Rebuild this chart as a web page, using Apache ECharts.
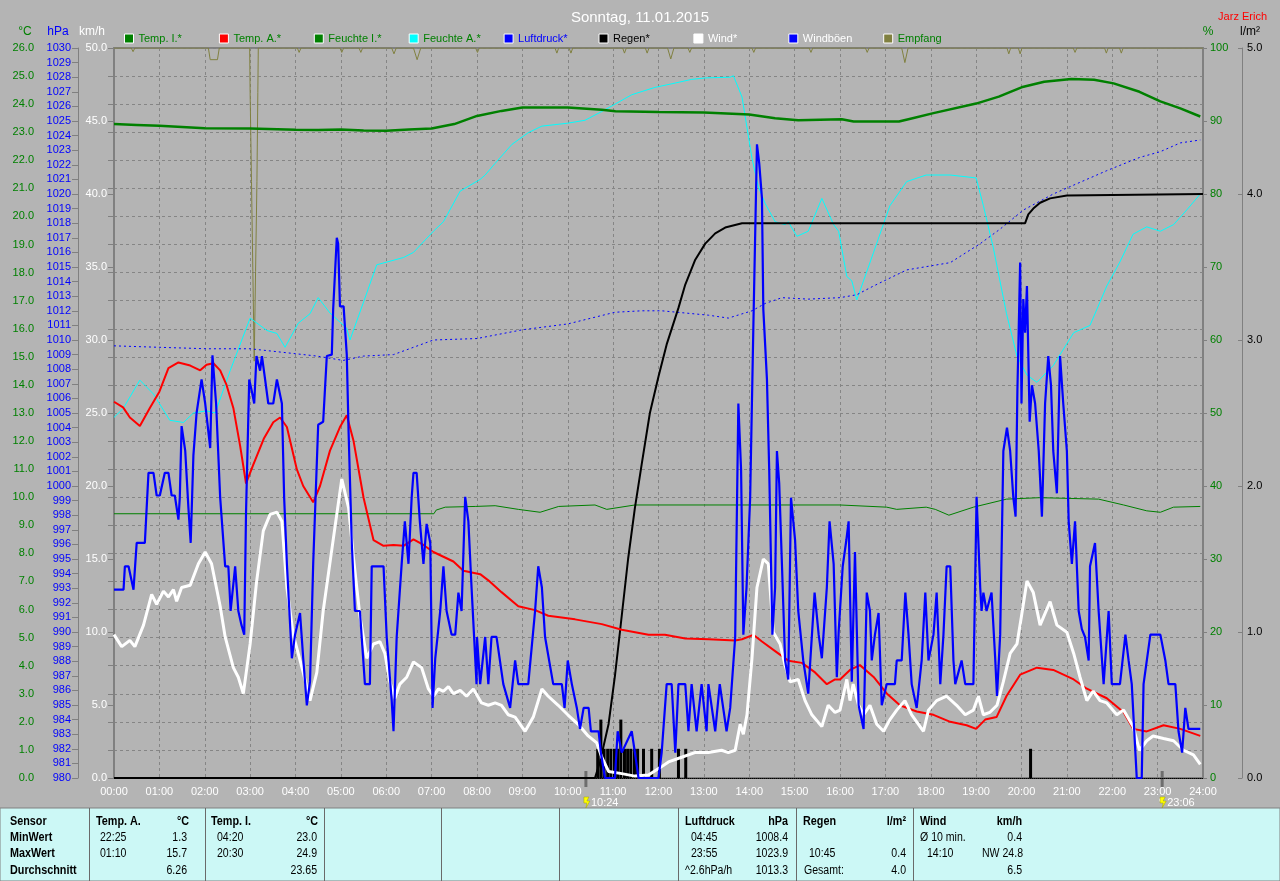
<!DOCTYPE html>
<html><head><meta charset="utf-8">
<script src="https://cdn.jsdelivr.net/npm/echarts@6/dist/echarts.min.js"></script>
<style>html,body{margin:0;padding:0;background:#b4b4b4}#c{width:1280px;height:881px}</style>
</head><body><div id="c"></div><script>
// ---------- data (time in hours) ----------
const hourLabels = ['00:00','01:00','02:00','03:00','04:00','05:00','06:00','07:00','08:00','09:00','10:00','11:00','12:00','13:00','14:00','15:00','16:00','17:00','18:00','19:00','20:00','21:00','22:00','23:00','24:00'];
const legendNames = ['Temp. I.*','Temp. A.*','Feuchte I.*','Feuchte A.*','Luftdruck*','Regen*','Wind*','Windböen','Empfang'];
const legendTextColors = ['#008000','#008000','#008000','#008000','#0000ff','#000000','#ffffff','#ffffff','#008000'];
const axisUnits = ['°C','hPa','km/h','%','l/m²'];
const axisUnitColors = ['#008000','#0000ff','#ffffff','#008000','#000000'];

const tempI = [[0,23.29],[0.5,23.26],[1,23.23],[1.5,23.19],[2,23.14],[3,23.13],[4,23.09],[4.5,23.08],[5,23.1],[5.5,23.06],[6,23.05],[6.5,23.1],[7,23.13],[7.5,23.29],[8,23.58],[8.54,23.76],[9,23.88],[10,23.88],[10.75,23.8],[11.05,23.75],[12,23.72],[13,23.7],[14,23.63],[14.57,23.5],[15.08,23.43],[16.04,23.46],[16.3,23.38],[17.3,23.38],[17.6,23.5],[18.06,23.68],[19,24.02],[19.5,24.27],[20,24.6],[20.5,24.8],[21.1,24.9],[21.6,24.87],[22.03,24.74],[22.6,24.44],[23.06,24.1],[23.5,23.85],[23.94,23.56]];

const tempA = [[0,13.4],[0.2,13.2],[0.35,12.84],[0.57,12.54],[0.79,13.18],[1.0,13.76],[1.2,14.6],[1.42,14.8],[1.68,14.69],[1.9,14.52],[2.04,14.72],[2.19,14.77],[2.34,14.52],[2.48,14.0],[2.63,13.18],[2.78,11.83],[2.91,10.49],[3.07,11.16],[3.3,12.08],[3.51,12.67],[3.66,12.84],[3.81,12.5],[4.03,10.99],[4.17,10.4],[4.39,9.82],[4.54,10.4],[4.76,11.66],[4.98,12.5],[5.13,12.92],[5.28,12.0],[5.5,9.98],[5.72,8.47],[5.94,8.27],[6.16,8.3],[6.38,8.27],[6.6,8.5],[6.82,8.3],[7.04,8.05],[7.26,7.88],[7.48,7.71],[7.7,7.38],[8.07,7.26],[8.25,7.04],[8.54,6.62],[8.91,6.12],[9.28,5.98],[9.57,5.78],[10.16,5.65],[10.75,5.48],[11.19,5.28],[11.78,5.1],[12.14,5.1],[12.59,4.97],[13.1,4.94],[13.69,4.9],[13.84,4.94],[14.09,5.1],[14.28,4.86],[14.57,4.52],[14.86,4.18],[15.16,4.1],[15.45,3.76],[15.71,3.34],[15.89,3.51],[16.0,3.51],[16.22,3.85],[16.44,4.02],[16.74,3.6],[17.03,3.01],[17.32,2.59],[17.69,2.37],[18.06,2.25],[18.43,2.0],[18.79,1.88],[19.0,1.75],[19.2,2.08],[19.45,2.17],[19.67,2.92],[19.97,3.68],[20.34,3.93],[20.7,3.85],[21.15,3.51],[21.44,3.18],[21.88,2.84],[22.25,2.34],[22.46,1.75],[22.76,1.66],[23.13,1.88],[23.5,1.75],[23.94,1.5]];

const humI = [[0,36.2],[7.05,36.2],[7.1,36.7],[7.3,37.1],[7.96,37.2],[8.4,37.3],[8.91,36.8],[9.39,36.4],[9.8,37.2],[10.6,37.4],[10.86,36.8],[11.48,37.4],[16,37.4],[17.03,37.1],[17.25,36.8],[17.9,37.1],[18.1,36.8],[18.4,36.0],[18.94,37.1],[19.67,38.2],[20.4,38.4],[21.7,38.2],[22.25,37.4],[22.76,36.6],[23.06,36.4],[23.35,37.1],[23.94,37.2]];

const humA = [[0,49.4],[0.2,50.6],[0.57,54.5],[0.87,52.6],[1.23,49.0],[1.53,48.7],[1.75,50],[2.04,50.3],[2.23,50],[2.56,55.8],[3.0,63.0],[3.37,61.3],[3.59,60.9],[3.77,59.0],[4.06,62.3],[4.32,63.6],[4.5,65.8],[4.76,63.7],[5.13,61.6],[5.2,60.0],[5.5,65.2],[5.79,70.3],[6.38,71.3],[6.6,72.0],[7.04,74.9],[7.26,76.2],[7.63,80.4],[8.07,82],[8.18,82.6],[8.4,84.2],[8.77,86.8],[9.13,88.4],[9.43,89.3],[10.0,89.7],[10.38,90.1],[10.75,91.3],[11.04,92.3],[11.41,93.6],[11.92,94.6],[12.37,95.2],[12.73,95.7],[13.03,95.9],[13.58,96],[13.65,96.2],[13.84,93.3],[14.06,84.9],[14.2,81],[14.35,78.7],[14.57,76.2],[14.79,75.8],[14.86,76.2],[15.05,74.2],[15.3,74.9],[15.6,79.4],[15.86,75.8],[15.97,74.9],[16.15,68.7],[16.26,68.1],[16.37,65.5],[16.74,72],[17.1,78.4],[17.47,81.7],[17.9,82.6],[18.43,82.6],[19.0,82.2],[19.16,78.4],[19.38,72.6],[19.67,63.6],[19.9,57.8],[20.12,55.2],[20.34,54.2],[20.7,56.5],[21.15,61],[21.51,62],[21.88,67.4],[22.17,70.7],[22.46,74.5],[22.76,75.5],[23.06,74.9],[23.35,75.8],[23.64,77.8],[23.94,80]];

const pressure = [[0,1009.6],[1.0,1009.5],[2.04,1009.4],[3.0,1009.4],[3.59,1009.2],[4.47,1008.9],[5.05,1008.6],[5.5,1008.9],[6.16,1009.0],[7.04,1010.0],[8.0,1010.1],[9.0,1010.7],[10.0,1011.1],[11.04,1011.9],[11.63,1012.0],[12.07,1012.0],[13.1,1011.7],[13.54,1011.5],[14.06,1012.0],[14.35,1012.5],[14.72,1012.9],[15.3,1012.8],[16.0,1012.9],[16.37,1013.1],[16.74,1013.7],[17.47,1014.8],[18.43,1015.3],[19.09,1016.6],[19.53,1017.6],[20.04,1018.9],[20.7,1020],[21.29,1020.8],[21.88,1021.6],[22.6,1022.5],[23.06,1022.9],[23.5,1023.5],[23.94,1023.7]];

const rainTotal = [[0,0],[10.6,0],[10.71,0.11],[10.9,0.37],[11.04,0.7],[11.15,1.0],[11.33,1.5],[11.48,1.85],[11.63,2.15],[11.81,2.5],[12.0,2.75],[12.18,2.97],[12.44,3.22],[12.59,3.38],[12.81,3.55],[13.03,3.66],[13.25,3.73],[13.47,3.77],[13.84,3.8],[20.08,3.8],[20.15,3.86],[20.26,3.9],[20.41,3.94],[20.63,3.97],[21.0,3.99],[24,4.0]];

const rainRate = [[10.66,0.2],[10.73,0.4],[10.8,0.2],[10.88,0.2],[10.95,0.2],[11.03,0.2],[11.1,0.2],[11.17,0.4],[11.25,0.2],[11.32,0.2],[11.39,0.2],[11.47,0.2],[11.54,0.2],[11.67,0.2],[11.85,0.2],[12.02,0.2],[12.44,0.2],[12.6,0.2],[20.2,0.2]];

const wind = [[0,9.82],[0.17,9.0],[0.35,9.43],[0.46,9.0],[0.65,10.47],[0.83,12.57],[0.94,11.9],[1.09,12.8],[1.2,12.4],[1.31,12.9],[1.38,12.1],[1.49,13.05],[1.68,13.2],[1.86,14.67],[2.01,15.48],[2.15,14.67],[2.34,11.76],[2.45,9.66],[2.63,7.56],[2.74,6.9],[2.85,5.78],[3.0,9.18],[3.14,13.38],[3.29,16.93],[3.44,18.06],[3.59,18.2],[3.7,17.58],[3.81,13.05],[3.95,9.82],[4.17,7.24],[4.32,5.3],[4.47,7.24],[4.61,11.44],[4.8,15.64],[5.02,20.48],[5.17,18.5],[5.28,15.0],[5.42,11.1],[5.57,8.2],[5.72,9.18],[5.86,9.34],[5.97,8.53],[6.08,6.6],[6.19,5.46],[6.3,6.43],[6.45,6.9],[6.6,7.95],[6.78,7.56],[6.93,6.1],[7.04,5.6],[7.15,6.1],[7.26,5.94],[7.37,6.26],[7.48,5.78],[7.63,6.0],[7.77,5.6],[7.92,6.1],[8.1,5.14],[8.25,4.98],[8.4,5.14],[8.54,4.98],[8.69,4.33],[8.84,4.17],[9.06,3.2],[9.24,4.17],[9.43,6.1],[9.57,5.6],[9.79,4.98],[10.0,4.33],[10.23,3.68],[10.45,2.88],[10.64,2.4],[10.75,1.42],[10.9,0.45],[11.19,0.3],[11.48,0.13],[11.78,0.2],[12.07,0.78],[12.22,1.1],[12.51,1.42],[12.8,1.74],[13.1,1.74],[13.39,1.9],[13.54,1.74],[13.69,1.9],[13.8,3.68],[13.87,3.0],[13.95,4.33],[14.06,8.2],[14.17,13.05],[14.31,15.0],[14.42,14.67],[14.53,9.98],[14.68,9.18],[14.79,7.72],[14.9,6.59],[15.08,6.75],[15.23,5.3],[15.38,4.33],[15.6,3.52],[15.74,4.98],[15.89,4.49],[16.0,4.65],[16.15,6.75],[16.22,5.3],[16.29,6.43],[16.41,4.98],[16.52,4.33],[16.66,4.98],[16.81,3.68],[16.96,3.2],[17.1,4.0],[17.25,4.65],[17.43,5.3],[17.58,4.33],[17.73,3.68],[17.84,3.2],[17.95,4.65],[18.13,5.3],[18.35,5.6],[18.57,4.98],[18.76,4.33],[18.94,4.65],[19.05,5.6],[19.16,4.33],[19.3,4.49],[19.46,4.98],[19.6,6.6],[19.75,8.53],[19.9,9.18],[20.0,11.1],[20.12,13.5],[20.26,12.7],[20.41,10.47],[20.63,12.08],[20.78,10.47],[21.0,9.98],[21.15,8.53],[21.29,6.9],[21.44,5.3],[21.58,5.95],[21.73,5.3],[21.88,5.14],[22.1,4.33],[22.25,4.65],[22.46,3.52],[22.6,1.9],[22.76,2.55],[22.9,2.88],[23.13,2.71],[23.35,2.55],[23.57,1.9],[23.79,1.58],[23.94,0.94]];

const gusts = [[0,12.9],[0.21,12.9],[0.24,14.5],[0.32,14.5],[0.43,12.9],[0.5,16.1],[0.68,16.1],[0.76,20.9],[0.87,20.9],[0.94,19.35],[1.01,19.35],[1.12,20.9],[1.2,20.9],[1.27,19.35],[1.34,19.35],[1.42,17.7],[1.45,19.2],[1.49,24.1],[1.57,22.4],[1.64,18.5],[1.69,16.1],[1.75,22.1],[1.82,25.0],[1.93,27.3],[2.01,25.65],[2.08,23.7],[2.12,22.6],[2.17,28.95],[2.25,25.65],[2.34,19.2],[2.45,14.5],[2.52,14.5],[2.57,11.44],[2.67,14.5],[2.74,11.44],[2.81,10.47],[2.87,9.82],[2.91,18.2],[2.98,27.3],[3.03,26.6],[3.09,25.65],[3.14,28.9],[3.22,27.9],[3.26,28.9],[3.33,27.3],[3.4,25.65],[3.51,25.65],[3.59,27.3],[3.7,25.65],[3.75,19.2],[3.81,14.67],[3.92,8.2],[3.99,9.82],[4.1,11.3],[4.17,8.2],[4.25,4.98],[4.32,6.6],[4.39,14.67],[4.5,24.2],[4.61,24.4],[4.69,28.9],[4.8,29.0],[4.83,32.1],[4.91,37.0],[4.94,36.6],[4.98,32.3],[5.06,32.3],[5.13,29.0],[5.17,23.7],[5.24,16.1],[5.31,11.44],[5.42,11.44],[5.53,6.43],[5.64,6.43],[5.68,14.5],[5.94,14.5],[6.01,9.66],[6.12,5.3],[6.16,3.2],[6.23,9.66],[6.34,14.67],[6.41,17.58],[6.49,14.67],[6.56,19.2],[6.6,20.9],[6.67,20.9],[6.74,17.58],[6.82,14.67],[6.89,17.4],[6.97,16.1],[7.02,4.8],[7.08,8.2],[7.19,11.44],[7.26,14.5],[7.33,11.44],[7.44,9.82],[7.52,9.82],[7.59,12.7],[7.66,11.44],[7.74,19.26],[7.81,17.58],[7.88,13.05],[7.99,6.43],[8.0,9.66],[8.07,6.43],[8.18,9.66],[8.25,6.43],[8.32,9.66],[8.43,9.66],[8.58,6.43],[8.73,4.8],[8.84,8.05],[8.91,6.43],[9.13,6.43],[9.28,11.44],[9.35,14.5],[9.43,13.05],[9.5,9.66],[9.68,6.43],[9.87,6.43],[9.93,4.8],[10.0,8.05],[10.09,6.43],[10.2,4.8],[10.27,3.36],[10.35,4.8],[10.46,4.8],[10.51,3.2],[10.68,3.2],[10.73,1.74],[10.82,0],[11.04,0],[11.1,3.2],[11.19,1.74],[11.41,3.2],[11.48,1.74],[11.56,0],[12.0,0],[12.07,1.74],[12.18,6.43],[12.29,6.43],[12.37,1.74],[12.44,6.43],[12.59,6.43],[12.66,3.2],[12.73,6.43],[12.84,3.2],[12.95,6.43],[13.06,3.2],[13.1,6.43],[13.25,3.2],[13.35,6.43],[13.5,3.2],[13.58,4.8],[13.69,9.66],[13.76,25.65],[13.82,21.1],[13.87,9.82],[13.94,13.05],[14.02,19.2],[14.09,30.8],[14.17,43.4],[14.22,42.1],[14.28,39.7],[14.31,32.1],[14.39,27.3],[14.44,21.1],[14.51,9.82],[14.57,13.05],[14.61,22.4],[14.66,20.2],[14.72,14.67],[14.79,8.05],[14.86,6.75],[14.92,19.2],[15.01,16.3],[15.08,11.44],[15.19,8.05],[15.3,5.78],[15.44,12.7],[15.53,9.82],[15.6,8.2],[15.71,13.05],[15.77,17.58],[15.86,14.67],[15.93,6.9],[15.97,10.0],[16.06,14.5],[16.14,16.3],[16.19,17.58],[16.26,6.6],[16.33,15.48],[16.41,4.98],[16.52,3.36],[16.59,12.7],[16.66,11.44],[16.7,8.05],[16.77,9.82],[16.85,11.3],[16.92,4.98],[17.03,6.43],[17.21,6.43],[17.25,8.05],[17.36,8.05],[17.44,12.7],[17.51,9.82],[17.58,6.43],[17.69,4.8],[17.8,8.05],[17.88,12.7],[17.95,8.05],[18.06,9.82],[18.13,12.7],[18.21,6.43],[18.28,9.82],[18.35,14.5],[18.43,14.5],[18.5,8.05],[18.54,6.43],[18.68,8.05],[18.76,6.43],[18.94,6.43],[19.01,19.26],[19.09,13.05],[19.12,11.44],[19.16,12.7],[19.23,11.44],[19.34,12.7],[19.42,8.2],[19.46,5.62],[19.53,9.82],[19.6,22.4],[19.68,24.0],[19.75,22.4],[19.82,19.2],[19.87,17.9],[19.91,26.6],[19.97,35.3],[20.0,25.65],[20.04,32.8],[20.08,30.5],[20.12,33.7],[20.18,24.4],[20.23,26.9],[20.3,25.65],[20.38,22.4],[20.45,17.9],[20.52,25.65],[20.59,28.9],[20.65,26.9],[20.7,22.4],[20.78,19.5],[20.85,28.9],[20.92,25.65],[21.0,22.4],[21.04,17.58],[21.11,14.67],[21.18,17.58],[21.26,11.44],[21.33,10.2],[21.4,9.66],[21.48,8.05],[21.51,14.5],[21.62,16.1],[21.7,11.44],[21.81,6.43],[21.92,11.44],[21.99,6.43],[22.17,6.43],[22.29,9.82],[22.36,8.05],[22.43,6.43],[22.51,1.74],[22.54,0],[22.65,0],[22.69,6.43],[22.84,9.82],[23.06,9.82],[23.17,8.05],[23.24,6.43],[23.39,6.43],[23.46,3.2],[23.54,1.74],[23.61,4.8],[23.68,3.36],[23.79,3.36],[23.94,3.36]];

const reception = [[0,100],[0.38,100],[0.42,99.5],[0.46,100],[2.08,100],[2.12,98.4],[2.28,98.4],[2.32,100],[2.99,100],[3.0,93.9],[3.03,81.7],[3.06,69.4],[3.09,57.1],[3.12,69.4],[3.15,81.7],[3.17,93.9],[3.18,100],[4.04,100],[4.08,99.4],[4.12,100],[4.98,100],[5.02,99.4],[5.06,100],[5.4,100],[5.44,99.4],[5.48,100],[6.12,100],[6.17,99.2],[6.22,100],[6.6,100],[6.68,98.4],[6.76,100],[7.97,100],[8.01,99.4],[8.05,100],[9.72,100],[9.76,99.3],[9.8,100],[10.03,100],[10.07,99.3],[10.11,100],[11.21,100],[11.25,99.3],[11.29,100],[11.71,100],[11.75,99.3],[11.79,100],[12.2,100],[12.27,98.5],[12.34,100],[12.65,100],[12.69,99.4],[12.73,100],[14.06,100],[14.1,99.4],[14.14,100],[15.32,100],[15.36,99.4],[15.4,100],[16.56,100],[16.6,99.4],[16.64,100],[17.36,100],[17.43,98.0],[17.5,100],[19.68,100],[19.72,99.2],[19.76,100],[19.93,100],[19.97,99.2],[20.01,100],[21.14,100],[21.18,99.4],[21.22,100],[21.83,100],[21.87,99.3],[21.91,100],[22.16,100],[22.2,99.3],[22.24,100],[24,100]];

const markerTimes = [10.4, 23.1];
const markerLabels = ['10:24', '23:06'];

// summary table text: [x, row, text, align, bold]
const tableRows = [
  [10,0,'Sensor','left',true],[10,1,'MinWert','left',true],[10,2,'MaxWert','left',true],[10,3,'Durchschnitt','left',true],
  [96,0,'Temp. A.','left',true],[189,0,'°C','right',true],
  [100,1,'22:25','left',false],[187,1,'1.3','right',false],
  [100,2,'01:10','left',false],[187,2,'15.7','right',false],
  [187,3,'6.26','right',false],
  [211,0,'Temp. I.','left',true],[318,0,'°C','right',true],
  [217,1,'04:20','left',false],[317,1,'23.0','right',false],
  [217,2,'20:30','left',false],[317,2,'24.9','right',false],
  [317,3,'23.65','right',false],
  [685,0,'Luftdruck','left',true],[788,0,'hPa','right',true],
  [691,1,'04:45','left',false],[788,1,'1008.4','right',false],
  [691,2,'23:55','left',false],[788,2,'1023.9','right',false],
  [685,3,'^2.6hPa/h','left',false],[788,3,'1013.3','right',false],
  [803,0,'Regen','left',true],[906,0,'l/m²','right',true],
  [809,2,'10:45','left',false],[906,2,'0.4','right',false],
  [804,3,'Gesamt:','left',false],[906,3,'4.0','right',false],
  [920,0,'Wind','left',true],[1022,0,'km/h','right',true],
  [920,1,'Ø 10 min.','left',false],[1022,1,'0.4','right',false],
  [927,2,'14:10','left',false],[1023,2,'NW 24.8','right',false],
  [1022,3,'6.5','right',false]
];
const tableDividers = [89,205,324,441,559,678,796,913];

// ---------- chart ----------
const FONT = '"Liberation Sans", Arial, sans-serif';
const chart = echarts.init(document.getElementById('c'), null, {renderer:'canvas'});
const gray = '#808080';
const gridLine = {show:true, lineStyle:{color:'#858585', type:[3,3], width:1}};

function yAx(o){
  return Object.assign({
    type:'value',
    axisLine:{show:true, lineStyle:{color:gray}},
    axisTick:{show:true, length:6, lineStyle:{color:gray}},
    splitLine:{show:false}
  }, o);
}
function lineS(name, data, y, color, width, extra){
  return Object.assign({
    name, type:'line', data, yAxisIndex:y, symbol:'none', showSymbol:false, color,
    itemStyle:{color}, lineStyle:{color, width}, animation:false, silent:true
  }, extra || {});
}

const option = {
  backgroundColor:'#b4b4b4',
  animation:false,
  textStyle:{fontFamily:FONT},
  title:[
    {text:'Sonntag, 11.01.2015', left:'center', top:5, textStyle:{color:'#ffffff', fontSize:15, fontWeight:'normal', fontFamily:FONT}},
    {text:'Jarz Erich', right:8, top:6, textStyle:{color:'#ff0000', fontSize:11, fontWeight:'normal', fontFamily:FONT}}
  ],
  legend: legendNames.map((n,i)=>({
    data:[n], left:124 + i*94.9, top:33, icon:'rect', itemWidth:9, itemHeight:9, padding:0,
    selectedMode:false, itemStyle:{borderColor:'#ffffff', borderWidth:1},
    textStyle:{color:legendTextColors[i], fontSize:11, fontFamily:FONT}
  })),
  grid:{left:114, right:77, top:48, bottom:103, show:true, borderColor:gray, borderWidth:2, backgroundColor:'transparent'},
  xAxis:{
    type:'value', min:0, max:24, interval:1,
    axisLine:{show:true, onZero:false, lineStyle:{color:'#000000', type:'dotted'}},
    axisTick:{show:false},
    axisLabel:{color:'#ffffff', fontSize:11, margin:8, fontFamily:FONT, formatter:v=>hourLabels[Math.round(v)]},
    splitLine:gridLine
  },
  yAxis:[
    yAx({position:'left', offset:73, min:0, max:26, interval:1,
      axisLabel:{color:'#008000', fontSize:11, margin:7, fontFamily:FONT, formatter:v=>v.toFixed(1)},
      splitLine:gridLine}),
    yAx({position:'left', offset:36, min:980, max:1030, interval:1,
      axisLabel:{color:'#0000ff', fontSize:11, margin:7, fontFamily:FONT, formatter:v=>String(v)}}),
    yAx({position:'left', offset:0, min:0, max:50, interval:5,
      axisLabel:{color:'#ffffff', fontSize:11, margin:7, fontFamily:FONT, formatter:v=>v.toFixed(1)}}),
    yAx({position:'right', offset:0, min:0, max:100, interval:10,
      axisTick:{show:true, length:4, lineStyle:{color:gray}},
      axisLabel:{color:'#008000', fontSize:11, margin:7, fontFamily:FONT, formatter:v=>String(v)}}),
    yAx({position:'right', offset:39, min:0, max:5, interval:1,
      axisTick:{show:true, inside:true, length:4, lineStyle:{color:gray}},
      axisLabel:{color:'#000000', fontSize:11, margin:5, fontFamily:FONT, formatter:v=>v.toFixed(1)}})
  ],
  series:[
    lineS('Empfang', reception, 3, '#808040', 1),
    lineS('Feuchte I.*', humI, 3, '#008000', 1),
    lineS('Feuchte A.*', humA, 3, '#00ffff', 1),
    lineS('Luftdruck*', pressure, 1, '#0000ff', 1, {lineStyle:{color:'#0000ff', width:1, type:[2,3]}}),
    {name:'Regen Intervall', type:'bar', data:rainRate, yAxisIndex:4, barWidth:3, itemStyle:{color:'#000000'}, silent:true, animation:false},
    lineS('Regen*', rainTotal, 4, '#000000', 2),
    lineS('Temp. I.*', tempI, 0, '#008000', 2.5),
    lineS('Temp. A.*', tempA, 0, '#ff0000', 2),
    lineS('Wind*', wind, 2, '#ffffff', 3),
    lineS('Windböen', gusts, 2, '#0000ff', 2.2)
  ]
};
chart.setOption(option);

// ---------- axis unit names, annotations and summary panel ----------
const g = [];
// axis unit names placed above each axis line
const unitAxes = [{yAxisIndex:0, dx:-16},{yAxisIndex:1, dx:-20},{yAxisIndex:2, dx:-22},{yAxisIndex:3, dx:5},{yAxisIndex:4, dx:8}];
const axisX = [41, 78, 114, 1203, 1242]; // axis line positions follow the grid offsets above
axisUnits.forEach((u,i)=>{
  g.push({type:'text', x:axisX[i] + unitAxes[i].dx, y:32, silent:true,
    style:{text:u, fill:axisUnitColors[i], font:'12px '+FONT, textAlign:'center', textVerticalAlign:'middle'}});
});
// summary panel
g.push({type:'rect', shape:{x:0, y:808, width:1280, height:73}, style:{fill:'#ccf8f6', stroke:'#808080', lineWidth:1}, silent:true});
tableDividers.forEach(x=>g.push({type:'line', shape:{x1:x+0.5, y1:808, x2:x+0.5, y2:881}, style:{stroke:'#6a6a6a', lineWidth:1}, silent:true}));
const rowY = [822, 838, 854, 871];
tableRows.forEach(r=>{
  g.push({type:'text', x:r[0], y:rowY[r[1]], scaleX:r[4]?0.9:0.88, silent:true,
    style:{x:0, y:0, text:r[2], fill:'#000000', font:(r[4]?'bold ':'')+'12px '+FONT, textAlign:r[3], textVerticalAlign:'middle'}});
});
// time markers below x axis
markerTimes.forEach((t,i)=>{
  const px = chart.convertToPixel({xAxisIndex:0}, t);
  g.push({type:'line', shape:{x1:px, y1:771, x2:px, y2:787}, style:{stroke:'#6e6e6e', lineWidth:3}, silent:true});
  if (i===1) g.push({type:'circle', shape:{cx:px-1, cy:800, r:2}, style:{fill:'#ffffff'}, silent:true});
  g.push({type:'polygon', shape:{points:[[px-2,797],[px+3,797],[px+1,801],[px+4,801],[px,808],[px+1,803],[px-2,803]]}, style:{fill:'#ffff00', stroke:'#a0a000', lineWidth:0.5}, silent:true});
  g.push({type:'text', x:px+5, y:803, silent:true, style:{text:markerLabels[i], fill:'#ffffff', font:'11px '+FONT, textVerticalAlign:'middle'}});
});
chart.setOption({graphic:g});
</script></body></html>
